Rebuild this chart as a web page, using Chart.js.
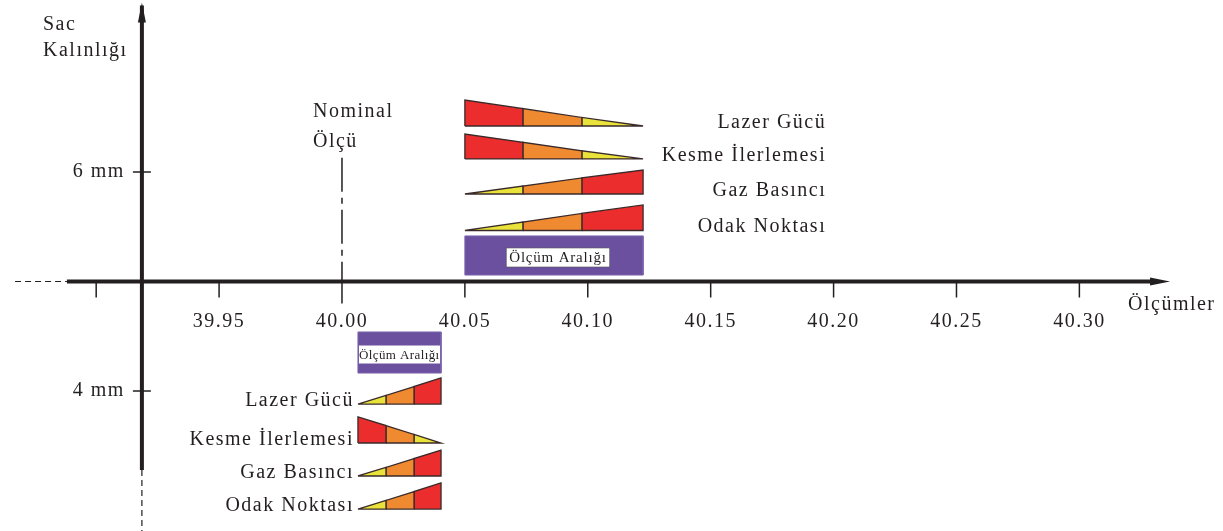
<!DOCTYPE html>
<html>
<head>
<meta charset="utf-8">
<script src="https://cdn.jsdelivr.net/npm/chart.js@4.4.0/dist/chart.umd.min.js"></script>
<style>
  html, body { margin: 0; padding: 0; background: #fff; }
  #wrap { width: 1223px; height: 531px; }
</style>
</head>
<body>
<div id="wrap"><canvas id="myChart" width="1223" height="531"></canvas></div>
<script>
// axis values
var xTicks = [39.90, 39.95, 40.00, 40.05, 40.10, 40.15, 40.20, 40.25, 40.30];
var xTickLabels = ['', '39.95', '40.00', '40.05', '40.10', '40.15', '40.20', '40.25', '40.30'];
var yTicks = [6, 4];
var yTickLabels = ['6 mm', '4 mm'];
var nominal = 40.00;
var factors = ['Lazer Gücü', 'Kesme İlerlemesi', 'Gaz Basıncı', 'Odak Noktası'];
var rangeLabel = 'Ölçüm Aralığı';

// 6 mm sheet (above the axis)
var upperEdges = [40.05, 40.0736, 40.0976, 40.1225];
var upperBase = [6.420, 6.119, 5.799, 5.466];
var upperPeak = [6.657, 6.347, 6.018, 5.699];
var upperTrend = ['down', 'down', 'up', 'up'];
var upperRangeY = [5.059, 5.416];

// 4 mm sheet (below the axis)
var lowerEdges = [40.0065, 40.0179, 40.0293, 40.0403];
var lowerBase = [3.881, 3.525, 3.224, 2.922];
var lowerPeak = [4.119, 3.763, 3.461, 3.160];
var lowerTrend = ['up', 'down', 'up', 'up'];
var lowerRangeY = [4.164, 4.539];

// relative wedge height at each edge (rising wedge)
var profile = [0, 0.33, 0.67, 1];

var ink = '#231f20';
var segColors = ['#e9e23b', '#f08a30', '#eb2d2d']; // low, mid, high
var purple = '#6b50a0';
var serif = '"Liberation Serif", "DejaVu Serif", serif';

var X_MIN = 39.86087, X_MAX = 40.35843;
var Y_MIN = 2.7215, Y_MAX = 7.5708;
var originX = 39.9186, originY = 5;

function wedgeSets(edges, base, peak, trend) {
  var sets = [];
  base.forEach(function (b, r) {
    var h = peak[r] - b;
    var up = trend[r] === 'up';
    for (var i = 0; i < 3; i++) {
      var pa = up ? profile[i] : profile[3 - i];
      var pb = up ? profile[i + 1] : profile[2 - i];
      sets.push({
        data: [
          {x: edges[i], y: b}, {x: edges[i], y: b + h * pa},
          {x: edges[i + 1], y: b + h * pb}, {x: edges[i + 1], y: b}, {x: edges[i], y: b}
        ],
        showLine: true, fill: 'shape', tension: 0,
        backgroundColor: up ? segColors[i] : segColors[2 - i],
        borderColor: '#3a2a2a', borderWidth: 1.3, pointRadius: 0
      });
    }
  });
  return sets;
}

function boxSet(x0, x1, yr) {
  return {
    data: [{x: x0, y: yr[0]}, {x: x0, y: yr[1]}, {x: x1, y: yr[1]}, {x: x1, y: yr[0]}, {x: x0, y: yr[0]}],
    showLine: true, fill: 'shape', tension: 0,
    backgroundColor: purple, borderColor: '#7a64ad', borderWidth: 1, pointRadius: 0
  };
}

var datasets = []
  .concat(wedgeSets(upperEdges, upperBase, upperPeak, upperTrend))
  .concat(wedgeSets(lowerEdges, lowerBase, lowerPeak, lowerTrend))
  .concat([boxSet(upperEdges[0], upperEdges[3], upperRangeY), boxSet(lowerEdges[0], lowerEdges[3], lowerRangeY)])
  .concat([{
    // nominal size line
    data: [{x: nominal, y: 6.13}, {x: nominal, y: originY}],
    showLine: true, borderColor: ink, borderWidth: 1.5, borderDash: [34, 6, 6, 6], pointRadius: 0
  }]);

var diagramText = {
  id: 'diagramText',
  afterDatasetsDraw: function (chart) {
    var ctx = chart.ctx, x = chart.scales.x, y = chart.scales.y;
    var px = function (v) { return x.getPixelForValue(v); };
    var py = function (v) { return y.getPixelForValue(v); };
    var ax = px(originX), ay = py(originY);
    ctx.save();
    ctx.strokeStyle = ink; ctx.fillStyle = ink; ctx.lineCap = 'butt';

    // dashed ends of the axes
    ctx.lineWidth = 1.2; ctx.setLineDash([6, 4]);
    ctx.beginPath(); ctx.moveTo(px(39.8670), ay); ctx.lineTo(px(39.8881), ay); ctx.stroke();
    ctx.beginPath(); ctx.moveTo(ax, py(3.279)); ctx.lineTo(ax, py(Y_MIN)); ctx.stroke();
    ctx.setLineDash([]);

    // main axes
    ctx.lineWidth = 4;
    ctx.beginPath(); ctx.moveTo(px(39.8881), ay); ctx.lineTo(px(40.330), ay); ctx.stroke();
    ctx.beginPath(); ctx.moveTo(ax, py(3.279)); ctx.lineTo(ax, py(7.52)); ctx.stroke();
    // arrow heads
    var xe = px(40.3369);
    ctx.beginPath(); ctx.moveTo(xe, ay); ctx.lineTo(xe - 20, ay - 4); ctx.lineTo(xe - 20, ay + 4); ctx.closePath(); ctx.fill();
    var ye = py(7.548);
    ctx.beginPath(); ctx.moveTo(ax, ye); ctx.lineTo(ax - 4, ye + 20); ctx.lineTo(ax + 4, ye + 20); ctx.closePath(); ctx.fill();

    // ticks
    ctx.lineWidth = 1.5;
    xTicks.forEach(function (v) {
      var t = px(v);
      ctx.beginPath(); ctx.moveTo(t, ay); ctx.lineTo(t, ay + (v === nominal ? 22 : 16)); ctx.stroke();
    });
    yTicks.forEach(function (v) {
      ctx.beginPath(); ctx.moveTo(ax - 9, py(v)); ctx.lineTo(ax + 9, py(v)); ctx.stroke();
    });

    ctx.font = '20px ' + serif;
    ctx.letterSpacing = '1.5px';
    ctx.textBaseline = 'alphabetic';
    ctx.textAlign = 'center';
    xTicks.forEach(function (v, i) { ctx.fillText(xTickLabels[i], px(v), ay + 45); });
    ctx.textAlign = 'right';
    yTicks.forEach(function (v, i) { ctx.fillText(yTickLabels[i], ax - 17, py(v) + 5); });

    ctx.textAlign = 'left';
    ctx.fillText('Sac', 43, 30);
    ctx.fillText('Kalınlığı', 43, 56);
    ctx.fillText('Nominal', px(nominal) - 29, 117);
    ctx.fillText('Ölçü', px(nominal) - 29, 147);
    ctx.fillText('Ölçümler', 1128, ay + 28);

    ctx.textAlign = 'right';
    factors.forEach(function (f, i) {
      ctx.fillText(f, px(40.197), py(upperBase[i]) + 2);
      ctx.fillText(f, px(lowerEdges[0]) - 4, py(lowerBase[i]) + 2);
    });

    // range labels
    ctx.textBaseline = 'middle';
    var uMid = py((upperRangeY[0] + upperRangeY[1]) / 2) + 2;
    ctx.font = '15px ' + serif; ctx.letterSpacing = '0.8px';
    var w = ctx.measureText(rangeLabel).width + 6;
    var cx = (px(upperEdges[0]) + px(upperEdges[3])) / 2 + 4;
    ctx.fillStyle = '#fff'; ctx.fillRect(cx - w / 2, uMid - 9.5, w, 19);
    ctx.strokeStyle = '#555'; ctx.lineWidth = 0.6; ctx.strokeRect(cx - w / 2, uMid - 9.5, w, 19);
    ctx.fillStyle = ink; ctx.textAlign = 'center'; ctx.fillText(rangeLabel, cx, uMid + 1);

    var lMid = py((lowerRangeY[0] + lowerRangeY[1]) / 2) + 2;
    var l0 = px(lowerEdges[0]), l1 = px(lowerEdges[3]);
    ctx.font = '13px ' + serif; ctx.letterSpacing = '0.4px';
    ctx.fillStyle = '#fff'; ctx.fillRect(l0 + 1, lMid - 9, l1 - l0 - 2, 18);
    ctx.fillStyle = ink; ctx.textAlign = 'left'; ctx.fillText(rangeLabel, l0 + 1, lMid + 1);
    ctx.restore();
  }
};

var ctx = document.getElementById('myChart').getContext('2d');
var myChart = new Chart(ctx, {
  type: 'scatter',
  data: { datasets: datasets },
  options: {
    responsive: false,
    animation: false,
    layout: { padding: 0 },
    plugins: { legend: { display: false }, tooltip: { enabled: false } },
    scales: {
      x: { type: 'linear', min: X_MIN, max: X_MAX, display: false },
      y: { type: 'linear', min: Y_MIN, max: Y_MAX, display: false }
    }
  },
  plugins: [diagramText]
});
</script>
</body>
</html>
